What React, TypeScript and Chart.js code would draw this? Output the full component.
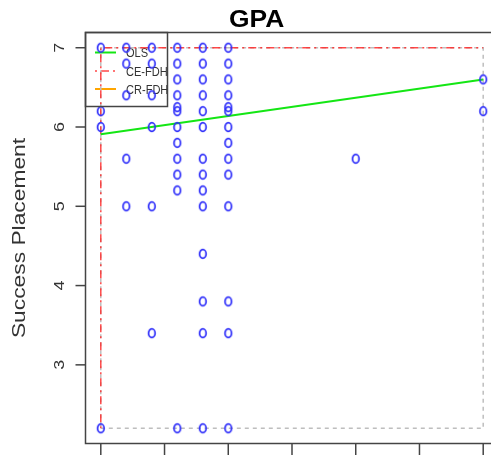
import { useEffect, useRef } from "react";
import { Chart, registerables } from "chart.js";

Chart.register(...registerables);

const chartTitle = "GPA";
const yAxisTitle = "Success Placement";
const yTickValues = [3, 4, 5, 6, 7];
const xTickValues = [2.0, 2.5, 3.0, 3.5, 4.0, 4.5, 5.0];

// observations (GPA, Success Placement)
const gpa = [
  2.0, 2.0, 2.0, 2.0,
  2.2, 2.2, 2.2, 2.2, 2.2,
  2.4, 2.4, 2.4, 2.4, 2.4, 2.4,
  2.6, 2.6, 2.6, 2.6, 2.6, 2.6, 2.6, 2.6, 2.6, 2.6, 2.6, 2.6,
  2.8, 2.8, 2.8, 2.8, 2.8, 2.8, 2.8, 2.8, 2.8, 2.8, 2.8, 2.8, 2.8, 2.8,
  3.0, 3.0, 3.0, 3.0, 3.0, 3.0, 3.0, 3.0, 3.0, 3.0, 3.0, 3.0, 3.0, 3.0,
  4.0,
  5.0, 5.0,
];
const placement = [
  7, 6.2, 6.0, 2.2,
  7, 6.8, 6.4, 5.6, 5.0,
  7, 6.8, 6.4, 6.0, 5.0, 3.4,
  7, 6.8, 6.6, 6.4, 6.25, 6.2, 6.0, 5.8, 5.6, 5.4, 5.2, 2.2,
  7, 6.8, 6.6, 6.4, 6.2, 6.0, 5.6, 5.4, 5.2, 5.0, 4.4, 3.8, 3.4, 2.2,
  7, 6.8, 6.6, 6.4, 6.25, 6.2, 6.0, 5.8, 5.6, 5.4, 5.0, 3.8, 3.4, 2.2,
  5.6,
  6.6, 6.2,
];

// OLS regression line end points
const olsX = [2.0, 5.0];
const olsY = [5.91, 6.6];
// CE-FDH ceiling step line
const ceX = [2.0, 2.0, 5.0];
const ceY = [2.2, 7.0, 7.0];
// scope rectangle
const scopeX = [2.0, 5.0, 5.0, 2.0, 2.0];
const scopeY = [2.2, 2.2, 7.0, 7.0, 2.2];

const legendLabels = ["OLS", "CE-FDH", "CR-FDH"];
const legendColors = ["rgb(20,230,20)", "rgba(255,40,40,0.85)", "rgb(255,165,0)"];

const FONT = '"Liberation Sans", Arial, Helvetica, sans-serif';
const RED_DASH = [2, 4, 8, 4];

function toPoints(xs: number[], ys: number[]) {
  return xs.map((x, i) => ({ x, y: ys[i] }));
}

function makeOval(): HTMLCanvasElement {
  const c = document.createElement("canvas");
  c.width = 12;
  c.height = 14;
  const g = c.getContext("2d")!;
  g.strokeStyle = "rgb(45,45,250)";
  g.lineWidth = 1.7;
  g.beginPath();
  g.ellipse(6, 7, 3.3, 4.3, 0, 0, Math.PI * 2);
  g.stroke();
  return c;
}

const decorPlugin = {
  id: "decor",
  beforeDatasetsDraw(chart: any) {
    const { ctx, chartArea: a } = chart;
    ctx.save();
    const lx = a.left;
    const ly = a.top;
    const rowsY = [ly + 20, ly + 38.5, ly + 56.5];
    legendLabels.forEach((lab, i) => {
      ctx.beginPath();
      ctx.strokeStyle = legendColors[i];
      ctx.lineWidth = i === 1 ? 1.5 : 2;
      ctx.setLineDash(i === 1 ? RED_DASH : []);
      ctx.moveTo(lx + 9.5, rowsY[i]);
      ctx.lineTo(lx + 30.5, rowsY[i]);
      ctx.stroke();
      ctx.setLineDash([]);
      ctx.save();
      ctx.translate(lx + 40.5, rowsY[i] + 1.2);
      ctx.scale(0.85, 1);
      ctx.fillStyle = "#333";
      ctx.font = `13px ${FONT}`;
      ctx.textAlign = "left";
      ctx.textBaseline = "middle";
      ctx.fillText(lab, 0, 0);
      ctx.restore();
    });
    ctx.restore();
  },
  afterDraw(chart: any) {
    const { ctx, chartArea: a, scales } = chart;
    const xs = scales.x;
    const ys = scales.y;
    ctx.save();
    ctx.strokeStyle = "#444";
    ctx.lineWidth = 1.5;
    ctx.setLineDash([]);
    ctx.strokeRect(a.left, a.top, a.right - a.left, a.bottom - a.top);
    ctx.strokeRect(a.left, a.top, 82, 74);
    ctx.fillStyle = "#333";
    yTickValues.forEach((v) => {
      const py = ys.getPixelForValue(v);
      ctx.beginPath();
      ctx.moveTo(a.left - 10, py);
      ctx.lineTo(a.left, py);
      ctx.stroke();
      ctx.save();
      ctx.translate(a.left - 21.5, py);
      ctx.rotate(-Math.PI / 2);
      ctx.scale(1.2, 1);
      ctx.font = `15px ${FONT}`;
      ctx.textAlign = "center";
      ctx.textBaseline = "alphabetic";
      ctx.fillText(String(v), 0, 0);
      ctx.restore();
    });
    xTickValues.forEach((v) => {
      const px = xs.getPixelForValue(v);
      ctx.beginPath();
      ctx.moveTo(px, a.bottom);
      ctx.lineTo(px, a.bottom + 12);
      ctx.stroke();
    });
    ctx.save();
    ctx.translate(25, (a.top + a.bottom) / 2);
    ctx.rotate(-Math.PI / 2);
    ctx.scale(1.2, 1);
    ctx.font = `19px ${FONT}`;
    ctx.fillStyle = "#333";
    ctx.textAlign = "center";
    ctx.textBaseline = "alphabetic";
    ctx.fillText(yAxisTitle, 0, 0);
    ctx.restore();
    ctx.save();
    ctx.translate(256.7, 27);
    ctx.scale(1.1, 1);
    ctx.font = `bold 24px ${FONT}`;
    ctx.fillStyle = "#000";
    ctx.textAlign = "center";
    ctx.textBaseline = "alphabetic";
    ctx.fillText(chartTitle, 0, 0);
    ctx.restore();
    ctx.restore();
  },
};

export default function App() {
  const ref = useRef<HTMLCanvasElement>(null);
  useEffect(() => {
    if (!ref.current) return;
    const oval = makeOval();
    const chart = new Chart(ref.current, {
      type: "scatter",
      data: {
        datasets: [
          {
            label: "obs",
            data: toPoints(gpa, placement),
            pointStyle: oval as any,
            pointRadius: 5,
            showLine: false,
          },
          {
            label: "OLS",
            data: toPoints(olsX, olsY),
            showLine: true,
            borderColor: legendColors[0],
            borderWidth: 2,
            pointRadius: 0,
          },
          {
            label: "CE-FDH",
            data: toPoints(ceX, ceY),
            showLine: true,
            borderColor: legendColors[1],
            borderWidth: 1.5,
            borderDash: RED_DASH,
            pointRadius: 0,
          },
          {
            label: "scope",
            data: toPoints(scopeX, scopeY),
            showLine: true,
            borderColor: "rgb(190,190,190)",
            borderWidth: 1.5,
            borderDash: [4, 4],
            pointRadius: 0,
          },
        ],
      },
      options: {
        animation: false,
        responsive: false,
        devicePixelRatio: 1,
        layout: {
          autoPadding: false,
          padding: { left: 85.5, right: 1.5, top: 32.5, bottom: 11.5 },
        },
        plugins: { legend: { display: false }, tooltip: { enabled: false } },
        events: [],
        scales: {
          x: { type: "linear", min: 1.88, max: 5.12, display: false },
          y: { type: "linear", min: 2.008, max: 7.192, display: false },
        },
      },
      plugins: [decorPlugin],
    });
    return () => chart.destroy();
  }, []);
  return (
    <div
      style={{
        position: "fixed",
        left: 0,
        top: 0,
        width: 491,
        height: 455,
        overflow: "hidden",
        background: "#fff",
      }}
    >
      <canvas ref={ref} width={500} height={455} style={{ display: "block", width: 500, height: 455 }} />
    </div>
  );
}
